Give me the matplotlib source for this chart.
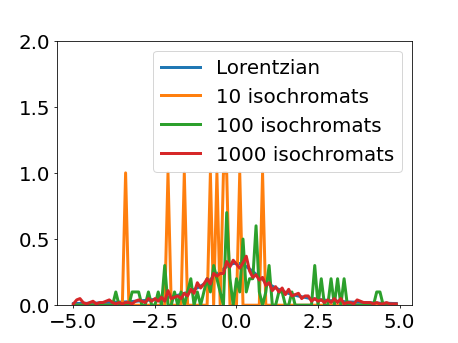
import numpy as np
import matplotlib
matplotlib.use("Agg")
import matplotlib.pyplot as plt

# frequency bins (-5.0 ... 4.9, step 0.1)
freq = np.round(np.arange(-50, 50) * 0.1, 1)

lorentzian = [
    0.012, 0.013, 0.013, 0.014, 0.014, 0.015, 0.015, 0.016, 0.017, 0.018,
    0.019, 0.020, 0.021, 0.022, 0.023, 0.024, 0.025, 0.027, 0.028, 0.030,
    0.032, 0.034, 0.036, 0.038, 0.041, 0.044, 0.047, 0.050, 0.054, 0.059,
    0.064, 0.069, 0.075, 0.082, 0.089, 0.098, 0.108, 0.119, 0.131, 0.144,
    0.159, 0.176, 0.194, 0.214, 0.234, 0.255, 0.274, 0.292, 0.306, 0.315,
    0.318, 0.315, 0.306, 0.292, 0.274, 0.255, 0.234, 0.214, 0.194, 0.176,
    0.159, 0.144, 0.131, 0.119, 0.108, 0.098, 0.089, 0.082, 0.075, 0.069,
    0.064, 0.059, 0.054, 0.050, 0.047, 0.044, 0.041, 0.038, 0.036, 0.034,
    0.032, 0.030, 0.028, 0.027, 0.025, 0.024, 0.023, 0.022, 0.021, 0.020,
    0.019, 0.018, 0.017, 0.016, 0.015, 0.015, 0.014, 0.014, 0.013, 0.013,
]

iso10 = [
    0, 0, 0, 0, 0, 0, 0, 0, 0, 0,
    0, 0, 0, 0, 0, 0, 1, 0, 0, 0,
    0, 0, 0, 0, 0, 0, 0, 0, 0, 1,
    0, 0, 0, 0, 1, 0, 0, 0, 0, 0,
    0, 0, 1, 0, 1, 0, 1, 1, 0, 0,
    0, 1, 0, 0, 0, 0, 0, 0, 1, 0,
    0, 0, 0, 0, 0, 0, 0, 0, 0, 0,
    0, 0, 0, 0, 0, 0, 0, 0, 0, 0,
    0, 0, 0, 0, 0, 0, 0, 0, 0, 0,
    0, 0, 0, 0, 0, 0, 0, 0, 0, 0,
]

iso100 = [
    0, 0, 0, 0, 0, 0, 0, 0, 0, 0,
    0, 0, 0, 0.1, 0, 0, 0, 0, 0.1, 0.1,
    0.1, 0, 0, 0.1, 0, 0, 0.1, 0, 0.3, 0,
    0, 0.1, 0, 0.1, 0, 0.1, 0.2, 0, 0.1, 0,
    0.1, 0.2, 0.1, 0.3, 0.2, 0.1, 0, 0.7, 0.2, 0,
    0.2, 0.1, 0.5, 0.1, 0.2, 0.2, 0.6, 0.1, 0, 0.1,
    0.3, 0, 0, 0.1, 0.1, 0, 0, 0.1, 0, 0,
    0, 0, 0, 0, 0.3, 0, 0.2, 0, 0, 0.2,
    0, 0.2, 0, 0.2, 0, 0, 0, 0, 0, 0,
    0, 0, 0, 0.1, 0.1, 0, 0, 0, 0, 0,
]

iso1000 = [
    0.01, 0.04, 0.05, 0.02, 0.01, 0.02, 0.03, 0.01, 0.02, 0.02,
    0.03, 0.04, 0.02, 0.01, 0.02, 0.01, 0.02, 0.02, 0.01, 0.03,
    0.04, 0.03, 0.02, 0.05, 0.03, 0.05, 0.03, 0.06, 0.03, 0.11,
    0.05, 0.06, 0.07, 0.05, 0.09, 0.07, 0.12, 0.09, 0.17, 0.13,
    0.16, 0.20, 0.16, 0.24, 0.22, 0.24, 0.24, 0.33, 0.29, 0.34,
    0.31, 0.28, 0.32, 0.37, 0.26, 0.21, 0.23, 0.19, 0.21, 0.15,
    0.17, 0.11, 0.14, 0.10, 0.13, 0.08, 0.12, 0.07, 0.08, 0.09,
    0.05, 0.07, 0.07, 0.03, 0.05, 0.03, 0.04, 0.02, 0.04, 0.02,
    0.05, 0.02, 0.05, 0.01, 0.02, 0.02, 0.01, 0.04, 0.03, 0.02,
    0.02, 0.02, 0.01, 0.02, 0.01, 0.01, 0.02, 0.01, 0.01, 0.01,
]

plt.rcParams['font.size'] = 20

fig = plt.figure(figsize=(6.4, 4.8), dpi=71.6)
plt.plot(freq, lorentzian, lw=3, label="Lorentzian")
plt.plot(freq, iso10, lw=3, label="10 isochromats")
plt.plot(freq, iso100, lw=3, label="100 isochromats")
plt.plot(freq, iso1000, lw=3, label="1000 isochromats")
plt.ylim(0, 2)
plt.xticks([-5.0, -2.5, 0.0, 2.5, 5.0])
plt.yticks([0.0, 0.5, 1.0, 1.5, 2.0])
plt.legend(loc="upper right")
plt.savefig("out.png", dpi=71.6)
